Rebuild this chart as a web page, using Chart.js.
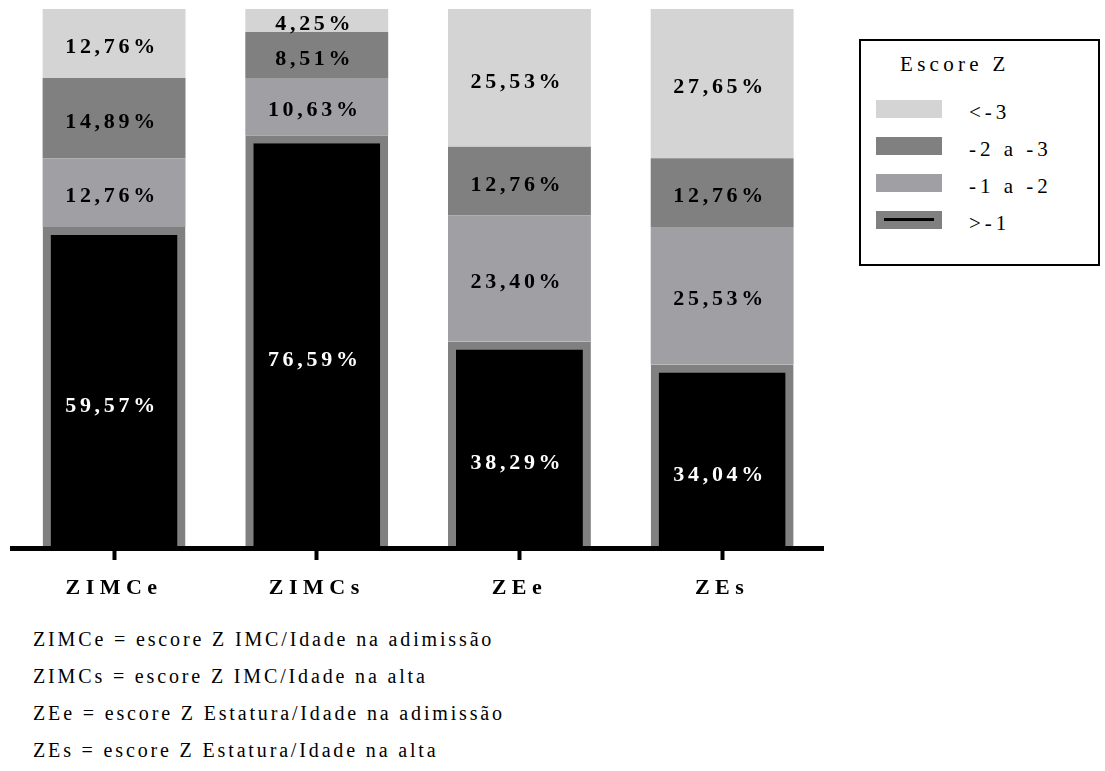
<!DOCTYPE html>
<html>
<head>
<meta charset="utf-8">
<script src="https://cdn.jsdelivr.net/npm/chart.js@4"></script>
<style>
  body { margin: 0; background: #fff; font-family: "Liberation Serif", "Times New Roman", serif; }
  #wrap { position: absolute; left: 0; top: 0; width: 850px; height: 620px; }
  #legend { position: absolute; left: 859px; top: 39px; width: 241px; height: 227px;
            border: 2px solid #000; box-sizing: border-box; }
  #legend .title { position: absolute; left: 39px; top: 13px; font-size: 21px; letter-spacing: 4.3px; line-height: 21px; }
  #legend .sw { position: absolute; left: 15px; width: 66px; height: 18px; }
  #legend .sw i { position: absolute; left: 8px; right: 8px; top: 7px; height: 3px; background: #000; }
  #legend .lbl { position: absolute; left: 108px; font-size: 21px; letter-spacing: 4px; line-height: 21px; white-space: pre; }
  .note { position: absolute; left: 33px; font-size: 20px; letter-spacing: 2.85px; line-height: 20px; white-space: pre; }
</style>
</head>
<body>
<div id="wrap"><canvas id="chart"></canvas></div>
<div id="legend"></div>
<div id="notes"></div>
<script>
const categories = ["ZIMCe", "ZIMCs", "ZEe", "ZEs"];
// stacked from bottom to top
const seriesLabels = [">-1", "-1 a -2", "-2 a -3", "<-3"];
const aboveMinus1 = [59.57, 76.59, 38.29, 34.04];
const minus1to2 = [12.76, 10.63, 23.40, 25.53];
const minus2to3 = [14.89, 8.51, 12.76, 12.76];
const belowMinus3 = [12.76, 4.25, 25.53, 27.65];
const legendTitle = "Escore Z";
const noteLines = [
    "ZIMCe = escore Z IMC/Idade na adimissão",
    "ZIMCs = escore Z IMC/Idade na alta",
    "ZEe = escore Z Estatura/Idade na adimissão",
    "ZEs = escore Z Estatura/Idade na alta"
];

const SERIF = '"Liberation Serif", "Times New Roman", serif';
const fills = ["#000000", "#a09fa4", "#808080", "#d4d4d4"];

const seriesData = [aboveMinus1, minus1to2, minus2to3, belowMinus3];

const datasets = seriesData.map((values, i) => ({
    label: seriesLabels[i],
    data: values,
    backgroundColor: fills[i],
    borderColor: i === 0 ? "#808080" : fills[i],
    borderWidth: i === 0 ? 8 : 0,
    borderSkipped: "start",
    barPercentage: 0.705,
    categoryPercentage: 1
}));

// percent labels inside each segment
const segmentLabels = {
    id: "segmentLabels",
    afterDatasetsDraw(chart) {
        const ctx = chart.ctx;
        ctx.save();
        ctx.font = "bold 22px " + SERIF;
        ctx.letterSpacing = "3.7px";
        ctx.textAlign = "center";
        ctx.textBaseline = "middle";
        chart.data.datasets.forEach((ds, i) => {
            const meta = chart.getDatasetMeta(i);
            meta.data.forEach((bar, j) => {
                const text = ds.data[j].toFixed(2).replace(".", ",") + "%";
                const shift = i === 0 ? 19 : 4;
                ctx.fillStyle = i === 0 ? "#ffffff" : "#000000";
                ctx.fillText(text, bar.x - 2, (bar.y + bar.base) / 2 + shift);
            });
        });
        ctx.restore();
    }
};

const tickSpacing = {
    id: "tickSpacing",
    beforeDraw(chart) { chart.ctx.letterSpacing = "5.5px"; }
};

new Chart(document.getElementById("chart"), {
    type: "bar",
    data: { labels: categories, datasets: datasets },
    options: {
        responsive: true,
        maintainAspectRatio: false,
        animation: false,
        layout: { padding: { left: 12.7, right: 26.5, top: 9, bottom: 2 } },
        plugins: { legend: { display: false }, tooltip: { enabled: false } },
        scales: {
            x: {
                stacked: true,
                offset: true,
                grid: { display: true, drawOnChartArea: false, offset: false,
                        tickLength: 12, tickWidth: 4, tickColor: "#000", color: "#000" },
                border: { display: true, color: "#000", width: 5, z: 1 },
                ticks: { color: "#000", padding: 15, font: { family: SERIF, size: 22, weight: "bold" } },
                afterFit(scale) { scale.height = 70; }
            },
            y: { stacked: true, display: false, min: 0, max: 100 }
        }
    },
    plugins: [segmentLabels, tickSpacing]
});

// legend box, top entry first
const legend = document.getElementById("legend");
legend.innerHTML = `<div class="title">${legendTitle}</div>`;
const swatchTops = [59, 96, 133, 170];
for (let k = 0; k < seriesLabels.length; k++) {
    const i = seriesLabels.length - 1 - k;
    const top = swatchTops[k];
    const sw = document.createElement("div");
    sw.className = "sw";
    sw.style.top = top + "px";
    sw.style.background = i === 0 ? "#808080" : fills[i];
    if (i === 0) sw.innerHTML = "<i></i>";
    legend.appendChild(sw);
    const lbl = document.createElement("div");
    lbl.className = "lbl";
    lbl.style.top = (top + 2) + "px";
    lbl.textContent = seriesLabels[i];
    legend.appendChild(lbl);
}

const notes = document.getElementById("notes");
noteLines.forEach((line, i) => {
    const d = document.createElement("div");
    d.className = "note";
    d.style.top = (629 + i * 37) + "px";
    d.textContent = line;
    notes.appendChild(d);
});
</script>
</body>
</html>
